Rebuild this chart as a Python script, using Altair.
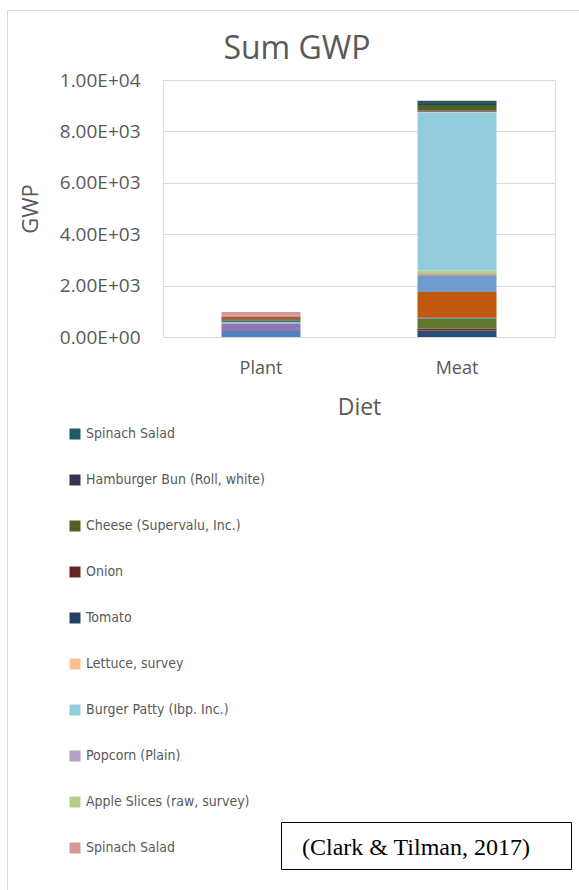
import altair as alt
import pandas as pd

# Diet categories on the x axis
diets = ["Plant", "Meat"]

# Stacked items, bottom to top (keys are unique; text after "|" is not shown)
items = [
    "Series 1", "Series 2", "Series 3", "Series 4", "Series 5",
    "Series 6", "Series 7", "Series 8", "Series 9", "Series 10",
    "Spinach Salad|base",
    "Apple Slices (raw, survey)",
    "Popcorn (Plain)",
    "Burger Patty (Ibp. Inc.)",
    "Lettuce, survey",
    "Tomato",
    "Onion",
    "Cheese (Supervalu, Inc.)",
    "Hamburger Bun (Roll, white)",
    "Spinach Salad|top",
]

colors = [
    "#4F81BD", "#8E78B4", "#A9B7D6", "#2C4D75", "#772C2A",
    "#5F7530", "#31859C", "#2E4A78", "#C0580F", "#729ACA",
    "#D99694",
    "#B6CD85",
    "#B3A2C7",
    "#93CDDD",
    "#FAC090",
    "#254061",
    "#632523",
    "#4F6228",
    "#3F3151",
    "#215968",
]

# GWP per item for each diet
plant_gwp = [230, 275, 80, 0, 0, 40, 25, 40, 105, 40,
             135, 0, 0, 0, 0, 0, 0, 0, 0, 0]
meat_gwp = [0, 0, 0, 250, 80, 390, 15, 15, 1000, 650,
            50, 140, 0, 6160, 10, 10, 40, 220, 40, 120]

# Legend lists the top ten items, top of the stack first
legend_items = list(reversed(items[-10:]))

y_ticks = [0, 2000, 4000, 6000, 8000, 10000]

rows = []
for i, name in enumerate(items):
    rows.append({"Diet": "Plant", "Item": name, "Idx": i, "GWP": plant_gwp[i]})
    rows.append({"Diet": "Meat", "Item": name, "Idx": i, "GWP": meat_gwp[i]})
df = pd.DataFrame(rows)

GREY = "#595959"
FONT = "Open Sans"
NARROW = "'Liberation Sans Narrow', 'DejaVu Sans Condensed', 'Roboto Condensed', 'Noto Sans', sans-serif"

exp = "floor(log(datum.value) / LN10 + 1e-9)"
sci_label = (
    "datum.value == 0 ? '0.00E+00' : format(datum.value / pow(10, " + exp + "), '.2f')"
    " + 'E+' + (" + exp + " < 10 ? '0' : '') + " + exp
)

bars = alt.Chart(df).mark_bar(size=79).encode(
    x=alt.X(
        "Diet:N",
        sort=diets,
        scale=alt.Scale(paddingInner=0, paddingOuter=0),
        axis=alt.Axis(
            title="Diet", labelAngle=0, domain=False, ticks=False,
            labelFont=FONT, labelFontSize=18, labelColor=GREY, labelPadding=22,
            titleFont=FONT, titleFontSize=23, titleColor=GREY,
            titleFontWeight="normal", titlePadding=19,
        ),
    ),
    y=alt.Y(
        "GWP:Q",
        stack="zero",
        scale=alt.Scale(domain=[0, 10000]),
        axis=alt.Axis(
            title="GWP", values=y_ticks, labelExpr=sci_label,
            domain=False, ticks=False, gridColor="#D9D9D9", gridWidth=1,
            labelFont=FONT, labelFontSize=19, labelColor=GREY, labelPadding=23,
            titleFont=FONT, titleFontSize=22, titleColor=GREY,
            titleFontWeight="normal", titleX=-133, titleY=128.5,
            titleBaseline="middle", titleAngle=-90,
        ),
    ),
    color=alt.Color(
        "Item:N",
        scale=alt.Scale(domain=items, range=colors),
        legend=alt.Legend(
            values=legend_items, title=None, orient="none",
            legendX=-95, legendY=347, direction="vertical",
            symbolType="square", symbolSize=121, symbolStrokeWidth=0,
            labelFont=NARROW, labelFontSize=14,
            labelColor=GREY, labelOffset=4, rowPadding=32, padding=0,
            labelExpr="split(datum.label, '|')[0]", labelLimit=0,
        ),
    ),
    order=alt.Order("Idx:Q", sort="ascending"),
)

# Outer chart frame
frame = alt.Chart(alt.Data(values=[{}])).mark_rect(
    fill=None, stroke="#D9D9D9", strokeWidth=1
).encode(
    x=alt.value(-155.5), x2=alt.value(600),
    y=alt.value(-69.5), y2=alt.value(900),
)

# Chart title, centred on the frame
title_df = pd.DataFrame({"t": ["Sum GWP"]})
title = alt.Chart(title_df).mark_text(
    font=FONT, fontSize=32, color=GREY, align="center", baseline="alphabetic"
).encode(
    x=alt.value(134), y=alt.value(-21), text="t:N",
)

# Citation box in the lower right
cite_df = pd.DataFrame({"t": ["(Clark & Tilman, 2017)"]})
cite_box = alt.Chart(cite_df).mark_rect(
    fill="white", stroke="black", strokeWidth=1
).encode(
    x=alt.value(118.5), x2=alt.value(408.5),
    y=alt.value(742.5), y2=alt.value(789.5),
)
cite_text = alt.Chart(cite_df).mark_text(
    font="Liberation Serif", fontSize=24, color="black", align="left", baseline="alphabetic"
).encode(
    x=alt.value(139), y=alt.value(775), text="t:N",
)

chart = alt.layer(frame, title, bars, cite_box, cite_text).properties(
    width=392,
    height=257,
    autosize=alt.AutoSizeParams(type="none"),
    padding={"left": 163, "top": 80, "right": 24, "bottom": 553},
).configure_view(stroke=None).configure(background="white")

chart.save("out.html", embed_options={"renderer": "svg", "actions": False})
